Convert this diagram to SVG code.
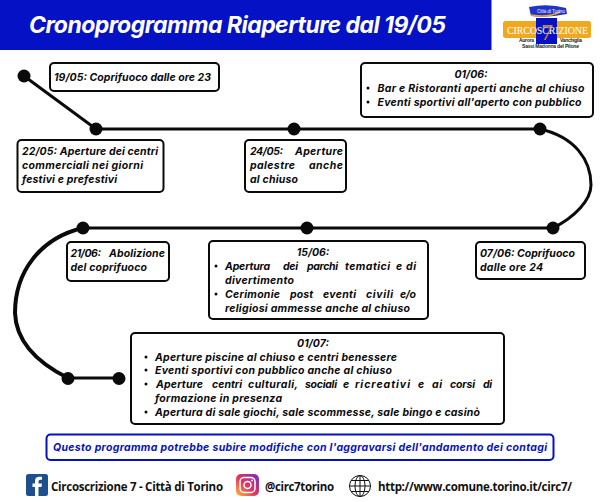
<svg xmlns="http://www.w3.org/2000/svg" width="600" height="502" viewBox="0 0 600 502">
<style>
text{font-family:"Inter","Liberation Sans",sans-serif}
.b{fill:#fff;stroke:#0a0a0a;stroke-width:2}
.t{font-size:10.5px;font-weight:700;font-style:italic;fill:#0a0a0a}
.c{text-anchor:middle}
.q{fill:#0a0a0a}
.f{font-family:"Open Sans","Noto Sans",sans-serif;font-size:11.5px;font-weight:700;fill:#111}
.l{stroke:#0a0a0a;stroke-width:3;fill:none}
.s{font-family:"Liberation Sans",sans-serif;font-size:5px;font-weight:700;fill:#222}
</style>
<rect width="600" height="502" fill="#fff"/>
<g id="header">
<rect x="0" y="0" width="491.5" height="50" fill="#0511C4"/>
<text x="29" y="33" font-size="23" font-weight="700" font-style="italic" fill="#fff" textLength="417">Cronoprogramma Riaperture dal 19/05</text>
</g>
<g id="logo">
<path d="M529 7 Q548 3 566 8 L567 14 Q548 18 531 16Z" fill="#2233c8"/>
<path d="M531 15 Q548 18 560 12" stroke="#f0a81e" stroke-width="1.5" fill="none"/>
<text x="537" y="13" font-size="4.5" fill="#fff" font-family="Liberation Sans" textLength="28">Città di Torino</text>
<rect x="503" y="21" width="88" height="17" rx="2.5" fill="#F0A81E"/>
<rect x="536" y="18" width="21" height="26" fill="#0511C4"/>
<text x="507" y="34" font-size="10" fill="#fff" style="font-family:'Liberation Serif',serif" textLength="81">CIRCOSCRIZIONE</text>
<text x="547" y="40" font-size="24" text-anchor="middle" fill="#F0A81E" style="font-family:'Liberation Serif',serif" opacity=".8">7</text>
<text class="s" x="519" y="42" textLength="15">Aurora</text>
<text class="s" x="560" y="42" textLength="22">Vanchiglia</text>
<text class="s" x="522" y="48" textLength="57">Sassi Madonna del Pilone</text>
</g>
<g id="connectors">
<path class="l" d="M24 76 L96 129 H540"/>
<path class="l" d="M540 129 C575 137 591 160 591 185 C591 200 575 217 553 228 H83"/>
<path class="l" style="stroke-width:4" d="M83 228 C40 238 15 272 15 313 C16 340 36 362 68 378"/>
<path class="l" d="M68 378 H119"/>
</g>
<g id="dots" class="q">
<circle cx="24" cy="76" r="6.5"/><circle cx="96" cy="129" r="6.5"/><circle cx="294" cy="129" r="6.5"/><circle cx="540" cy="129" r="6.5"/>
<circle cx="553" cy="228" r="6.5"/><circle cx="307" cy="228" r="6.5"/><circle cx="83" cy="228" r="6.5"/><circle cx="68" cy="378.500" r="6.5"/><circle cx="119" cy="378.500" r="6.5"/>
</g>
<g id="n1905"><rect class="b" x="50" y="63" width="169" height="28" rx="4"/>
<text class="t" x="54" y="81" textLength="157">19/05: Coprifuoco dalle ore 23</text></g>
<g id="n2205"><rect class="b" x="17.500" y="140" width="146" height="52" rx="4"/>
<text class="t" x="22" y="155" textLength="136">22/05: Aperture dei centri</text>
<text class="t" x="22" y="169" textLength="121">commerciali nei giorni</text>
<text class="t" x="22" y="183" textLength="95">festivi e prefestivi</text></g>
<g id="n2405"><rect class="b" x="245" y="140" width="101" height="52" rx="4"/>
<text class="t" x="250" y="155" textLength="33">24/05:</text><text class="t" x="295" y="155" textLength="48">Aperture</text>
<text class="t" x="250" y="169" textLength="45">palestre</text><text class="t" x="309" y="169" textLength="34">anche</text>
<text class="t" x="250" y="183" textLength="48">al chiuso</text></g>
<g id="n0106"><rect class="b" x="361" y="63" width="232" height="54" rx="4"/>
<text class="t c" x="471" y="78">01/06:</text>
<circle class="q" cx="368" cy="88" r="1.5"/><text class="t" x="377.500" y="92" textLength="207">Bar e Ristoranti aperti anche al chiuso</text>
<circle class="q" cx="368" cy="102" r="1.5"/><text class="t" x="377.500" y="106" textLength="204">Eventi sportivi all'aperto con pubblico</text></g>
<g id="n0706"><rect class="b" x="476" y="242" width="109" height="37" rx="4"/>
<text class="t" x="480" y="257" textLength="95">07/06: Coprifuoco</text>
<text class="t" x="480" y="271" textLength="63">dalle ore 24</text></g>
<g id="n1506"><rect class="b" x="209" y="241" width="219" height="78" rx="4"/>
<text class="t c" x="313" y="256">15/06:</text>
<circle class="q" cx="216" cy="266" r="1.500"/>
<text class="t" x="225" y="270" textLength="45">Apertura</text><text class="t" x="283" y="270" textLength="15">dei</text><text class="t" x="307" y="270" textLength="31">parchi</text><text class="t" x="345" y="270" textLength="45">tematici</text><text class="t" x="396" y="270" textLength="5">e</text><text class="t" x="406" y="270" textLength="10">di</text>
<text class="t" x="225" y="284" textLength="69">divertimento</text>
<circle class="q" cx="216" cy="294" r="1.500"/>
<text class="t" x="225" y="298" textLength="55">Cerimonie</text><text class="t" x="290" y="298" textLength="23">post</text><text class="t" x="323" y="298" textLength="33">eventi</text><text class="t" x="366" y="298" textLength="27">civili</text><text class="t" x="400" y="298" textLength="16">e/o</text>
<text class="t" x="225" y="312" textLength="185">religiosi ammesse anche al chiuso</text></g>
<g id="n2106"><rect class="b" x="67" y="242" width="102" height="39" rx="4"/>
<text class="t" x="70.500" y="257" textLength="30.500">21/06:</text><text class="t" x="109" y="257" textLength="56">Abolizione</text>
<text class="t" x="70.500" y="271" textLength="76.500">del coprifuoco</text></g>
<g id="n0107"><rect class="b" x="131" y="333" width="373" height="91" rx="4"/>
<text class="t c" x="313" y="346.500">01/07:</text>
<circle class="q" cx="146" cy="357" r="1.500"/><text class="t" x="155" y="360.500" textLength="242">Aperture piscine al chiuso e centri benessere</text>
<circle class="q" cx="146" cy="370" r="1.500"/><text class="t" x="155" y="374" textLength="237">Eventi sportivi con pubblico anche al chiuso</text>
<circle class="q" cx="146" cy="384" r="1.500"/>
<text class="t" x="156" y="388" textLength="47">Aperture</text><text class="t" x="212" y="388" textLength="30">centri</text><text class="t" x="248" y="388" textLength="50">culturali,</text><text class="t" x="305" y="388" textLength="32">sociali</text><text class="t" x="343" y="388" textLength="5">e</text><text class="t" x="355" y="388" textLength="55">ricreativi</text><text class="t" x="418" y="388" textLength="5">e</text><text class="t" x="432" y="388" textLength="10">ai</text><text class="t" x="450" y="388" textLength="25">corsi</text><text class="t" x="483" y="388" textLength="9">di</text>
<text class="t" x="155" y="402" textLength="127">formazione in presenza</text>
<circle class="q" cx="146" cy="412" r="1.500"/><text class="t" x="155" y="416" textLength="325">Apertura di sale giochi, sale scommesse, sale bingo e casinò</text></g>
<g id="note"><rect x="46.500" y="434.500" width="507" height="25.500" rx="4" fill="#fff" stroke="#0511C4" stroke-width="2"/>
<text class="t" style="fill:#0511C4" x="53" y="451" textLength="494">Questo programma potrebbe subire modifiche con l'aggravarsi dell'andamento dei contagi</text></g>
<g id="facebook"><rect x="26" y="474" width="22" height="22" rx="2.500" fill="#1c4f8c"/>
<path d="M38.500 496V487H41.500L42 483.500H38.500V481.500Q38.500 479.800 40.300 479.800H42V476.800H39.500Q35 476.800 35 481V483.500H32.500V487H35V496Z" fill="#fff"/>
<text class="f" x="51" y="491" textLength="172">Circoscrizione 7 - Città di Torino</text></g>
<g id="instagram">
<defs><linearGradient id="ig" x1="0" y1="1" x2="1" y2="0"><stop offset="0" stop-color="#fdc03a"/><stop offset=".45" stop-color="#e8345c"/><stop offset="1" stop-color="#6a2fc4"/></linearGradient></defs>
<rect x="236" y="474" width="23" height="22" rx="5" fill="url(#ig)"/>
<rect x="240" y="477.500" width="15" height="15" rx="4" fill="none" stroke="#fff" stroke-width="1.500"/>
<circle cx="247.500" cy="485" r="3.500" fill="none" stroke="#fff" stroke-width="1.500"/><circle cx="252" cy="480.500" r="1" fill="#fff"/>
<text class="f" x="265" y="491" textLength="69">@circ7torino</text></g>
<g id="web" fill="none" stroke="#111" stroke-width="1">
<circle cx="360" cy="486" r="10.500"/><ellipse cx="360" cy="486" rx="5" ry="10.500"/><path d="M360 475.500V496.500M349.500 486H370.500M351 480.500H369M351 491.500H369"/>
<text class="f" style="stroke:none" x="378" y="491" textLength="194">http://www.comune.torino.it/circ7/</text></g>
</svg>
